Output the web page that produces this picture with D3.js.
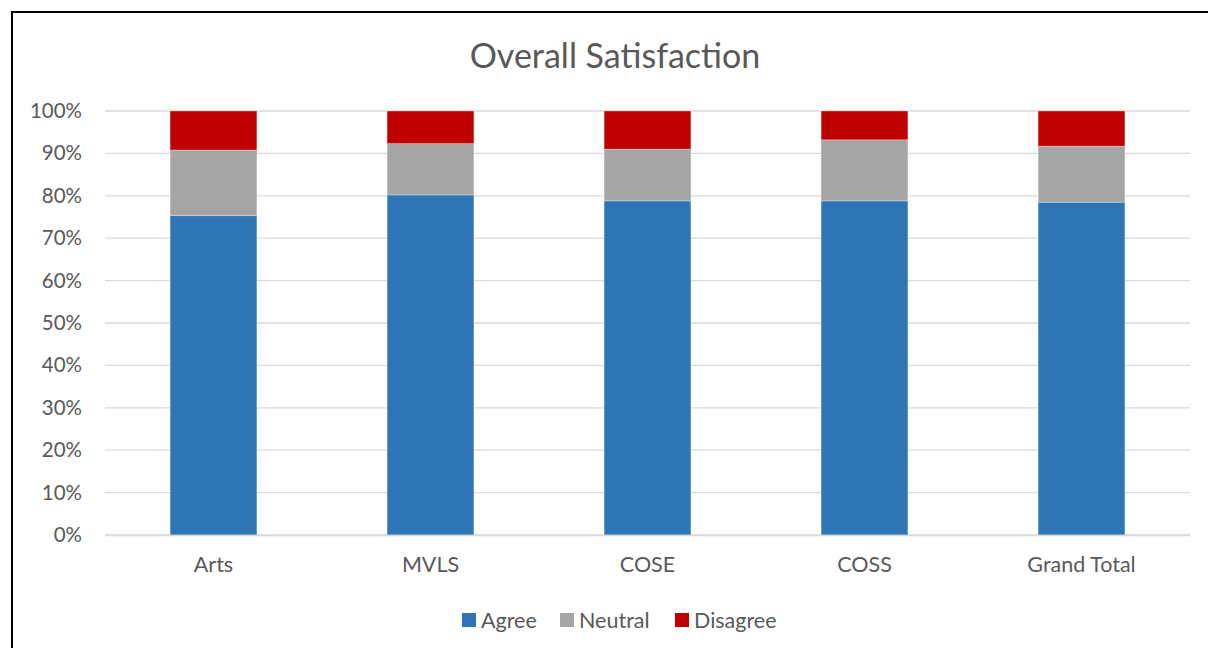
<!DOCTYPE html>
<html>
<head>
<meta charset="utf-8">
<script src="https://cdn.jsdelivr.net/npm/d3@7/dist/d3.min.js"></script>
<style>
  html, body { margin: 0; padding: 0; background: #fff; }
  svg { display: block; font-family: Lato, "Open Sans", sans-serif; }
</style>
</head>
<body>
<svg id="chart" width="1208" height="648"></svg>
<script>
const categories = ["Arts", "MVLS", "COSE", "COSS", "Grand Total"];
const seriesNames = ["Agree", "Neutral", "Disagree"];
const agree    = [75.3, 80.2, 78.8, 78.8, 78.5];
const neutral  = [15.5, 12.1, 12.2, 14.4, 13.2];
const disagree = [9.2, 7.7, 9.0, 6.8, 8.3];
const yTicks = [0, 10, 20, 30, 40, 50, 60, 70, 80, 90, 100];
const colors = ["#2E75B6", "#A5A5A5", "#C00000"];

const svg = d3.select("#chart");
const W = 1208, H = 648;
const m = { left: 105, right: 18, top: 111, bottom: 113 };

// frame border
svg.append("path")
  .attr("d", `M12,${H} L12,12 L${W},12`)
  .attr("fill", "none").attr("stroke", "#000").attr("stroke-width", 2);

const x = d3.scaleBand().domain(categories)
  .range([m.left, W - m.right]).paddingInner(0.6).paddingOuter(0.3);
const y = d3.scaleLinear().domain([0, 100]).range([H - m.bottom, m.top]);

// gridlines
svg.append("g").selectAll("line").data(yTicks).join("line")
  .attr("x1", m.left).attr("x2", W - m.right)
  .attr("y1", d => y(d)).attr("y2", d => y(d))
  .attr("stroke", "#D9D9D9").attr("stroke-width", 1.3);

// y axis labels
const yAxis = d3.axisLeft(y).tickValues(yTicks).tickFormat(d => d + "%").tickSize(0).tickPadding(23);
const gy = svg.append("g").attr("transform", `translate(${m.left},0)`).call(yAxis);
gy.select(".domain").remove();
gy.selectAll("text").attr("font-size", 20.5).attr("fill", "#595959").attr("font-family", "Lato, sans-serif");

// stacked data
const rows = categories.map((c, i) => ({ cat: c, Agree: agree[i], Neutral: neutral[i], Disagree: disagree[i] }));
const stack = d3.stack().keys(seriesNames)(rows);

svg.append("g").selectAll("g").data(stack).join("g")
  .attr("fill", (d, i) => colors[i])
  .selectAll("rect").data(d => d).join("rect")
  .attr("x", d => x(d.data.cat))
  .attr("width", x.bandwidth())
  .attr("y", d => y(d[1]))
  .attr("height", d => y(d[0]) - y(d[1]))
  .attr("stroke", "#fff").attr("stroke-width", 0.6).attr("stroke-opacity", 0.5);

// x axis labels
const xAxis = d3.axisBottom(x).tickSize(0).tickPadding(22);
const gx = svg.append("g").attr("transform", `translate(0,${y(0)})`).call(xAxis);
gx.select(".domain").attr("stroke", "#D9D9D9").attr("stroke-width", 1.3);
gx.selectAll("text").attr("font-size", 21.5).attr("fill", "#595959").attr("font-family", "Lato, sans-serif");

// title
svg.append("text").attr("x", 615).attr("y", 68).attr("text-anchor", "middle")
  .attr("font-size", 34).attr("fill", "#595959").text("Overall Satisfaction");

// legend
const legendItems = [
  { name: "Agree", x: 462 },
  { name: "Neutral", x: 560 },
  { name: "Disagree", x: 675 }
];
const lg = svg.append("g");
legendItems.forEach((it, i) => {
  lg.append("rect").attr("x", it.x).attr("y", 613).attr("width", 14).attr("height", 14).attr("fill", colors[i]);
  lg.append("text").attr("x", it.x + 19).attr("y", 628).attr("font-size", 21.5).attr("fill", "#595959").text(it.name);
});
</script>
</body>
</html>
